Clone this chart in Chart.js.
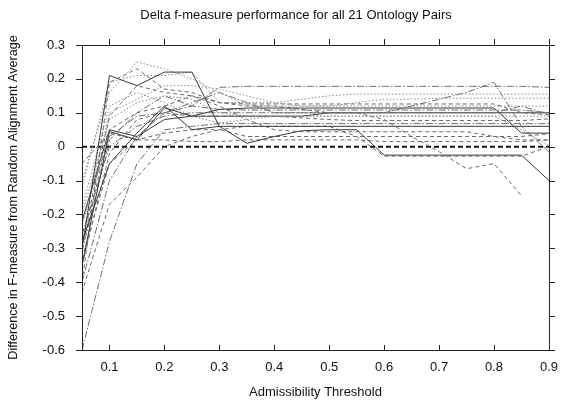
<!DOCTYPE html>
<html><head><meta charset="utf-8">
<script src="https://cdn.jsdelivr.net/npm/chart.js@4/dist/chart.umd.min.js"></script>
<style>html,body{margin:0;padding:0;background:#fff}#wrap{width:568px;height:403px}</style>
</head><body><div id="wrap"><canvas id="c" width="568" height="403"></canvas></div>
<script>
const thresholds = [0.05,0.1,0.15,0.2,0.25,0.3,0.35,0.4,0.45,0.5,0.55,0.6,0.65,0.7,0.75,0.8,0.85,0.9];
const xTickValues = [0.1,0.2,0.3,0.4,0.5,0.6,0.7,0.8,0.9];
const yTickValues = [-0.6,-0.5,-0.4,-0.3,-0.2,-0.1,0,0.1,0.2,0.3];
const chartTitle = 'Delta f-measure performance for all 21 Ontology Pairs';
const zeroLine = [0,0,0,0,0,0,0,0,0,0,0,0,0,0,0,0,0,0];
const pair1  = [-0.30,0.21,0.18,0.22,0.22,0.06,0.01,0.03,0.047,0.05,0.05,-0.025,-0.025,-0.025,-0.025,-0.025,-0.025,-0.10];
const pair2  = [-0.35,0.045,0.02,0.115,0.09,0.11,0.114,0.114,0.114,0.114,0.114,0.114,0.114,0.114,0.114,0.114,0.04,0.04];
const pair3  = [-0.28,-0.05,0.04,0.12,0.05,0.06,0.06,0.06,0.06,0.06,0.06,0.06,0.06,0.06,0.06,0.06,0.06,0.06];
const pair4  = [-0.22,0.03,0.09,0.10,0.12,0.175,0.178,0.178,0.178,0.178,0.178,0.178,0.178,0.178,0.178,0.178,0.178,0.175];
const pair5  = [-0.12,0.19,0.21,0.21,0.22,0.13,0.13,0.13,0.14,0.15,0.155,0.155,0.155,0.155,0.155,0.155,0.155,0.155];
const pair6  = [-0.10,0.16,0.25,0.23,0.20,0.16,0.12,0.12,0.12,0.12,0.13,0.14,0.14,0.143,0.143,0.143,0.143,0.143];
const pair7  = [-0.40,0.19,0.23,0.17,0.16,0.13,0.126,0.126,0.126,0.126,0.126,0.126,0.126,0.126,0.126,0.126,0.10,0.094];
const pair8  = [-0.30,0.05,0.10,0.12,0.15,0.13,0.12,0.12,0.11,0.10,0.10,0.08,0.03,-0.015,-0.065,-0.05,-0.145,null];
const pair9  = [-0.33,-0.05,0.02,0.04,0.05,0.05,0.06,0.06,0.06,0.06,0.03,-0.028,-0.028,-0.028,-0.028,-0.028,-0.028,0.0];
const pair10 = [-0.26,0.0,0.06,0.09,0.10,0.10,0.10,0.10,0.10,0.10,0.10,0.10,0.12,0.14,0.16,0.19,0.06,-0.015];
const pair11 = [-0.20,0.08,0.13,0.15,0.14,0.10,0.09,0.09,0.09,0.09,0.09,0.09,0.09,0.09,0.09,0.09,0.09,0.09];
const pair12 = [-0.43,-0.17,-0.09,0.0,0.03,0.05,0.03,0.03,0.03,0.03,0.03,0.03,0.03,0.03,0.03,0.03,0.03,0.038];
const pair13 = [-0.60,-0.28,-0.05,0.05,0.06,0.068,0.068,0.068,0.068,0.068,0.068,0.068,0.068,0.068,0.068,0.068,0.068,0.068];
const pair14 = [-0.35,-0.02,0.08,0.10,0.09,0.09,0.09,0.09,0.085,0.08,0.077,0.077,0.077,0.077,0.077,0.077,0.077,0.082];
const pair15 = [-0.31,0.02,0.10,0.15,0.12,0.11,0.108,0.108,0.108,0.108,0.108,0.108,0.108,0.108,0.108,0.108,0.108,0.10];
const pair16 = [-0.18,0.12,0.16,0.13,0.09,0.07,0.08,0.09,0.09,0.09,0.09,0.09,0.09,0.09,0.09,0.09,0.05,0.003];
const pair17 = [-0.29,0.09,0.18,0.16,0.15,0.12,0.08,0.05,0.044,0.044,0.044,0.044,0.044,0.044,0.044,0.03,0.02,0.02];
const pair18 = [-0.40,-0.10,0.03,0.10,0.13,0.16,0.13,0.10,0.10,0.10,0.10,0.10,0.10,0.10,0.10,0.10,0.12,0.094];
const pair19 = [-0.22,0.05,0.03,0.08,0.09,0.09,0.09,0.09,0.09,0.10,0.10,0.10,0.10,0.10,0.10,0.10,0.10,0.10];
const pair20 = [-0.24,0.10,0.14,0.18,0.18,0.17,0.15,0.13,0.12,0.12,0.12,0.12,0.12,0.12,0.12,0.12,0.12,0.12];
const pair21 = [-0.05,0.04,0.02,0.02,0.015,0.015,0.02,0.02,0.02,0.02,0.02,0.015,0.015,0.015,0.015,0.015,0.015,0.02];

const series = [pair1,pair2,pair3,pair4,pair5,pair6,pair7,pair8,pair9,pair10,pair11,pair12,pair13,pair14,pair15,pair16,pair17,pair18,pair19,pair20,pair21];
const styleKinds = ['solid','solid','solid','dashdot','dotted','dotted','dashed','dashed','dashed','dashdot','dotted','dashed','dashdot','dashed','dashdot','dotted','dashed','dashdot','solid','dotted','dashed'];
const STY = {
  solid:{c:'#3a3a3a',d:[]},
  dashed:{c:'#6a6a6a',d:[4,3]},
  dotted:{c:'#8a8a8a',d:[1.5,2]},
  dashdot:{c:'#6e6e6e',d:[7,2,1.5,2]}
};
const datasets = series.map((s,i)=>({
  label:'pair'+(i+1),
  data: thresholds.map((x,j)=>({x:x,y:s[j]})),
  borderColor: STY[styleKinds[i]].c,
  borderDash: STY[styleKinds[i]].d,
  borderWidth: 1,
  pointRadius: 0,
  fill:false,
  tension:0,
  spanGaps:false
}));
datasets.push({label:'zero',data:thresholds.map((x,j)=>({x:x,y:zeroLine[j]})),borderColor:'#111',borderDash:[5,3],borderWidth:2,pointRadius:0,fill:false});

const F = "'Liberation Sans', Arial, sans-serif";
const frame = {
  id:'frame',
  afterDatasetsDraw(chart){
    const {ctx, chartArea:a, scales:{x,y}} = chart;
    ctx.save();
    ctx.strokeStyle='#222'; ctx.lineWidth=1;
    ctx.strokeRect(a.left+0.5,a.top+0.5,a.right-a.left,a.bottom-a.top);
    ctx.beginPath();
    xTickValues.forEach(v=>{
      const px=Math.round(x.getPixelForValue(v))+0.5;
      ctx.moveTo(px,a.bottom); ctx.lineTo(px,a.bottom-5);
      ctx.moveTo(px,a.top); ctx.lineTo(px,a.top-6);
    });
    yTickValues.forEach(v=>{
      const py=Math.round(y.getPixelForValue(v))+0.5;
      ctx.moveTo(a.left,py); ctx.lineTo(a.left-6,py);
      ctx.moveTo(a.right,py); ctx.lineTo(a.right+6,py);
    });
    ctx.stroke();
    ctx.fillStyle='#111';
    ctx.font='13px '+F;
    ctx.textAlign='center'; ctx.textBaseline='middle';
    ctx.fillText(chartTitle, 296, 15);
    ctx.restore();
  }
};

new Chart(document.getElementById('c'),{
  type:'line',
  data:{datasets},
  plugins:[frame],
  options:{
    responsive:false, animation:false,
    layout:{padding:{left:0,right:11,top:45,bottom:3}},
    plugins:{ legend:{display:false}, tooltip:{enabled:false}, title:{display:false} },
    scales:{
      x:{type:'linear',min:0.05,max:0.9,
        afterBuildTicks:s=>{s.ticks=xTickValues.map(v=>({value:v}));},
        afterFit:s=>{s.height=50;},
        grid:{display:false,drawTicks:false},
        border:{display:false},
        ticks:{color:'#111',font:{family:F,size:13},padding:10,maxRotation:0,callback:v=>String(v)},
        title:{display:true,text:'Admissibility Threshold',color:'#111',font:{family:F,size:13},padding:{top:0,bottom:0}}
      },
      y:{type:'linear',min:-0.6,max:0.3,
        afterBuildTicks:s=>{s.ticks=yTickValues.map(v=>({value:v}));},
        afterFit:s=>{s.width=82;},
        grid:{display:false,drawTicks:false},
        border:{display:false},
        ticks:{color:'#111',font:{family:F,size:13},padding:17,callback:v=>String(Math.round(v*10)/10)},
        title:{display:true,text:'Difference in F-measure from Random Alignment Average',color:'#111',font:{family:F,size:12.6},padding:{top:6,bottom:0}}
      }
    }
  }
});
</script></body></html>
